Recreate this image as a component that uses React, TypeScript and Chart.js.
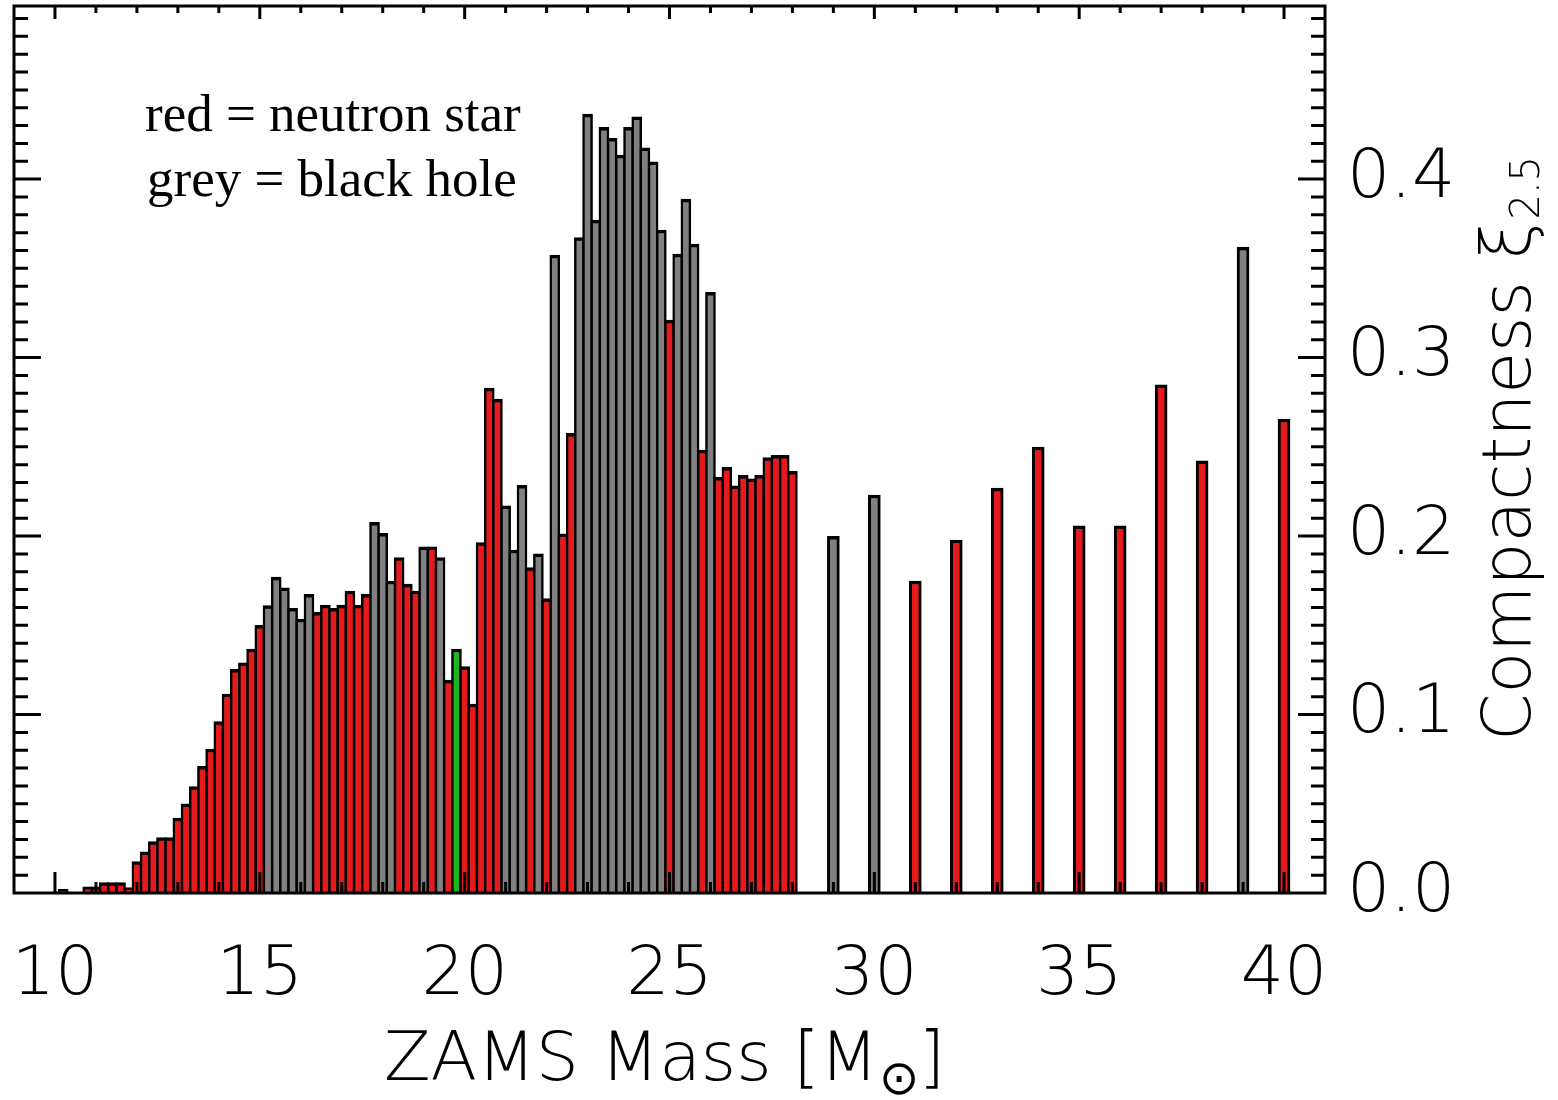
import React, { useEffect, useRef } from "react";
import { Chart, registerables } from "chart.js";

Chart.register(...registerables);

// ZAMS masses (M_sun) of the finely sampled models
const denseMass = [
  10.2, 10.8, 11.0, 11.2, 11.4, 11.6, 11.8, 12.0, 12.2, 12.4, 12.6, 12.8, 13.0,
  13.2, 13.4, 13.6, 13.8, 14.0, 14.2, 14.4, 14.6, 14.8, 15.0, 15.2, 15.4, 15.6,
  15.8, 16.0, 16.2, 16.4, 16.6, 16.8, 17.0, 17.2, 17.4, 17.6, 17.8, 18.0, 18.2,
  18.4, 18.6, 18.8, 19.0, 19.2, 19.4, 19.6, 19.8, 20.0, 20.2, 20.4, 20.6, 20.8,
  21.0, 21.2, 21.4, 21.6, 21.8, 22.0, 22.2, 22.4, 22.6, 22.8, 23.0, 23.2, 23.4,
  23.6, 23.8, 24.0, 24.2, 24.4, 24.6, 24.8, 25.0, 25.2, 25.4, 25.6, 25.8, 26.0,
  26.2, 26.4, 26.6, 26.8, 27.0, 27.2, 27.4, 27.6, 27.8, 28.0,
];

// Compactness xi_2.5 of the finely sampled models
const denseXi = [
  0.002, 0.0035, 0.0035, 0.0058, 0.0058, 0.0058, 0.003, 0.0176, 0.023, 0.0288,
  0.031, 0.031, 0.042, 0.05, 0.0596, 0.071, 0.0807, 0.096, 0.1115, 0.1253,
  0.129, 0.1367, 0.15, 0.161, 0.177, 0.171, 0.1595, 0.1535, 0.1673, 0.1572,
  0.1613, 0.1595, 0.1613, 0.1692, 0.1613, 0.1673, 0.2077, 0.2015, 0.1748,
  0.1879, 0.1731, 0.1692, 0.194, 0.194, 0.1879, 0.1193, 0.1367, 0.1268, 0.1059,
  0.1963, 0.2829, 0.2767, 0.217, 0.1922, 0.2284, 0.1824, 0.19, 0.165, 0.3574,
  0.2013, 0.2575, 0.3673, 0.4364, 0.377, 0.429, 0.4228, 0.4134, 0.429, 0.4349,
  0.4175, 0.4097, 0.3714, 0.321, 0.358, 0.3888, 0.3636, 0.2482, 0.3365, 0.2329,
  0.2385, 0.2281, 0.234, 0.2321, 0.234, 0.244, 0.2453, 0.2453, 0.2362,
];

// Remnant: NS = neutron star, BH = black hole, X = special (green)
const denseType = [
  "NS", "NS", "NS", "NS", "NS", "NS", "NS", "NS", "NS", "NS", "NS", "NS", "NS",
  "NS", "NS", "NS", "NS", "NS", "NS", "NS", "NS", "NS", "NS", "BH", "BH", "BH",
  "BH", "BH", "BH", "NS", "NS", "NS", "NS", "NS", "NS", "NS", "BH", "BH", "BH",
  "NS", "NS", "NS", "BH", "NS", "BH", "NS", "X", "NS", "NS", "NS", "NS", "NS",
  "BH", "BH", "BH", "NS", "BH", "NS", "BH", "NS", "NS", "BH", "BH", "BH", "BH",
  "BH", "BH", "BH", "BH", "BH", "BH", "BH", "NS", "BH", "BH", "BH", "NS", "BH",
  "NS", "NS", "NS", "NS", "NS", "NS", "NS", "NS", "NS", "NS",
];

// Coarsely sampled models
const sparseMass = [29, 30, 31, 32, 33, 34, 35, 36, 37, 38, 39, 40];
const sparseXi = [0.1998, 0.223, 0.1748, 0.1978, 0.2269, 0.2499, 0.2058, 0.2058, 0.2848, 0.2421, 0.3619, 0.2656];
const sparseType = ["BH", "BH", "NS", "NS", "NS", "NS", "NS", "NS", "NS", "NS", "BH", "NS"];

const xTickValues = [10, 15, 20, 25, 30, 35, 40];
const yTickValues = [0.0, 0.1, 0.2, 0.3, 0.4];
const legendLines = ["red = neutron star", "grey = black hole"];
const xTitleMain = "ZAMS Mass [M";
const xTitleSub = "\u2299";
const xTitleEnd = "]";
const yTitleMain = "Compactness \u03BE";
const yTitleSub = "2.5";

const typeColor: Record<string, string> = {
  NS: "#e41a1c",
  BH: "#808080",
  X: "#1fb41f",
};

const axisFamily = '"DejaVu Sans", sans-serif';

const framePlugin = {
  id: "idlFrame",
  afterDatasetsDraw(chart: any) {
    const { ctx, chartArea: a, scales } = chart;
    const x = scales.x;
    const y = scales.y;
    ctx.save();
    ctx.strokeStyle = "#000";
    ctx.lineWidth = 3;
    ctx.beginPath();
    for (let m = 10; m <= 40; m++) {
      const px = x.getPixelForValue(m);
      const major = m % 5 === 0;
      ctx.moveTo(px, a.top);
      ctx.lineTo(px, a.top + (major ? 13 : 7));
      ctx.moveTo(px, a.bottom);
      ctx.lineTo(px, a.bottom - (major ? 21 : 11));
    }
    for (let i = 1; i <= 49; i++) {
      const py = y.getPixelForValue(i / 100);
      const len = i % 10 === 0 ? 27 : 14;
      ctx.moveTo(a.left, py);
      ctx.lineTo(a.left + len, py);
      ctx.moveTo(a.right, py);
      ctx.lineTo(a.right - len, py);
    }
    ctx.stroke();
    ctx.strokeRect(a.left, a.top, a.right - a.left, a.bottom - a.top);

    // legend text
    ctx.fillStyle = "#000";
    ctx.font = '53px "Liberation Serif", serif';
    ctx.textBaseline = "alphabetic";
    ctx.textAlign = "left";
    ctx.fillText(legendLines[0], 145, 131);
    ctx.fillText(legendLines[1], 147, 196);

    // x title
    const mainFont = `200 68px ${axisFamily}`;
    const subFont = `200 48px ${axisFamily}`;
    ctx.font = mainFont;
    const w1 = ctx.measureText(xTitleMain).width;
    const w3 = ctx.measureText(xTitleEnd).width;
    ctx.font = subFont;
    const w2 = ctx.measureText(xTitleSub).width;
    const total = w1 + w2 + w3;
    let sx = (a.left + a.right) / 2 - 5 - total / 2;
    const base = a.bottom + 187;
    ctx.font = mainFont;
    ctx.fillText(xTitleMain, sx, base);
    sx += w1;
    ctx.font = subFont;
    ctx.fillText(xTitleSub, sx, base + 14);
    sx += w2;
    ctx.font = mainFont;
    ctx.fillText(xTitleEnd, sx, base);

    // y title (rotated, reading upward)
    ctx.font = mainFont;
    const v1 = ctx.measureText(yTitleMain).width;
    ctx.font = `200 40px ${axisFamily}`;
    const v2 = ctx.measureText(yTitleSub).width;
    const vt = v1 + v2;
    const cy = (a.top + a.bottom) / 2;
    ctx.translate(a.right + 205, cy + vt / 2);
    ctx.rotate(-Math.PI / 2);
    ctx.font = mainFont;
    ctx.fillText(yTitleMain, 0, 0);
    ctx.font = `200 40px ${axisFamily}`;
    ctx.fillText(yTitleSub, v1 + 2, 9);
    ctx.restore();
  },
};

export default function App() {
  const canvasRef = useRef<HTMLCanvasElement | null>(null);

  useEffect(() => {
    const canvas = canvasRef.current;
    if (!canvas) return;
    const tickFont = { family: axisFamily, size: 68, weight: 200 as any };
    const chart = new Chart(canvas, {
      type: "bar",
      data: {
        datasets: [
          {
            label: "fine grid",
            data: denseMass.map((m, i) => ({ x: m, y: denseXi[i] })) as any,
            backgroundColor: denseType.map((t) => typeColor[t]),
            borderColor: "#000",
            borderWidth: { top: 3.5, left: 2.5, right: 2.5, bottom: 0 },
            borderSkipped: false,
            barThickness: 10,
            grouped: false,
          } as any,
          {
            label: "coarse grid",
            data: sparseMass.map((m, i) => ({ x: m, y: sparseXi[i] })) as any,
            backgroundColor: sparseType.map((t) => typeColor[t]),
            borderColor: "#000",
            borderWidth: { top: 3.5, left: 3, right: 3, bottom: 0 },
            borderSkipped: false,
            barThickness: 12,
            grouped: false,
          } as any,
        ],
      },
      options: {
        responsive: false,
        animation: false,
        events: [],
        layout: { padding: { left: 14, top: 6, right: 0, bottom: 0 } },
        plugins: {
          legend: { display: false },
          tooltip: { enabled: false },
          title: { display: false },
        },
        scales: {
          x: {
            type: "linear",
            position: "bottom",
            offset: false,
            min: 9,
            max: 41,
            grid: { display: false, offset: false },
            border: { display: false },
            afterBuildTicks: (s: any) => {
              s.ticks = xTickValues.map((v) => ({ value: v }));
            },
            afterFit: (s: any) => {
              s.height = 207;
              s.paddingLeft = 0;
              s.paddingRight = 0;
            },
            ticks: {
              color: "#000",
              font: tickFont,
              padding: 35,
              maxRotation: 0,
              autoSkip: false,
              callback: (v: any) => String(v),
            },
          },
          y: {
            type: "linear",
            position: "right",
            offset: false,
            min: 0,
            max: 0.497,
            grid: { display: false },
            border: { display: false },
            afterBuildTicks: (s: any) => {
              s.ticks = yTickValues.map((v) => ({ value: v }));
            },
            afterFit: (s: any) => {
              s.width = 233;
              s.paddingTop = 0;
              s.paddingBottom = 0;
            },
            ticks: {
              color: "#000",
              font: tickFont,
              padding: 14,
              callback: (v: any) => Number(v).toFixed(1),
            },
          },
        },
      } as any,
      plugins: [framePlugin],
    });
    return () => chart.destroy();
  }, []);

  return (
    <div style={{ position: "absolute", left: 0, top: 0, width: 1558, height: 1100, background: "#fff" }}>
      <canvas ref={canvasRef} width={1558} height={1100} style={{ display: "block" }} />
    </div>
  );
}
